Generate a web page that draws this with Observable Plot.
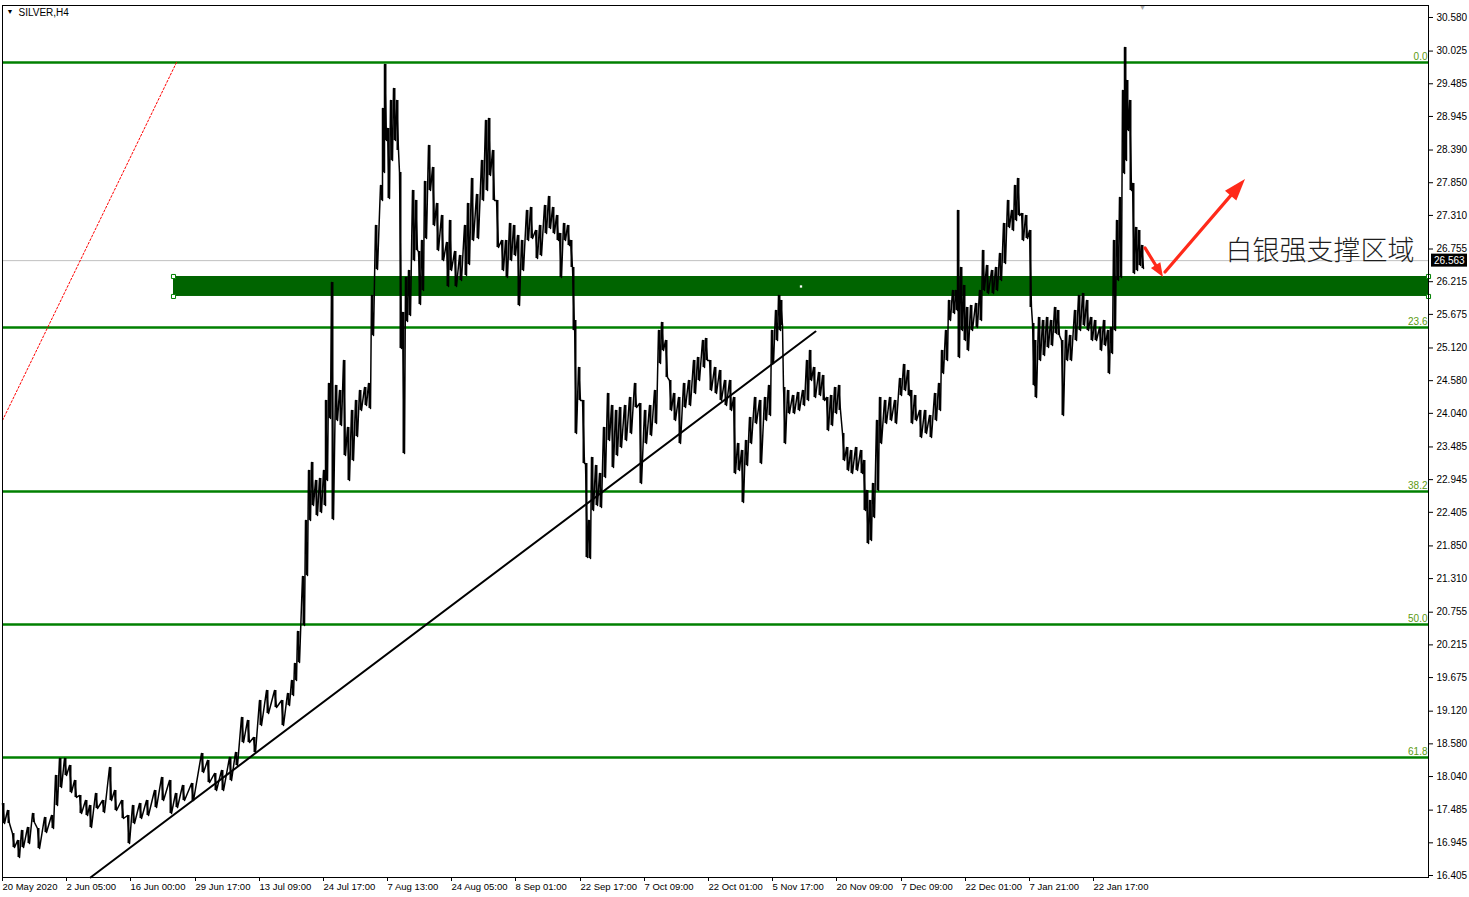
<!DOCTYPE html>
<html>
<head>
<meta charset="utf-8">
<script src="https://cdn.jsdelivr.net/npm/d3@7"></script>
<script src="https://cdn.jsdelivr.net/npm/@observablehq/plot@0.6"></script>
<style>
  html, body { margin: 0; padding: 0; background: #fff; overflow: hidden; }
  #chart { width: 1469px; height: 897px; }
</style>
</head>
<body>
<div id="chart"></div>
<script>
// ---------- data (bar index along the MT4 time axis, prices) ----------
const symbolTitle = "SILVER,H4";

const bars = [
  3,8,13,18,22,28,33,38,45,52,56,60,65,70,75,80,86,90,96,103,110,115,122,128,133,140,147,155,162,170,176,183,192,202,208,215,222,230,236,242,248,254,260,267,275,282,288,292,295,
  298,303,306,309,312,316,320,324,326,329,332,336,340,344,348,352,356,360,365,369,372,376,381,383,385,388,391,394,397,400,403,406,409,413,416,419,422,425,429,433,437,442,447,450,455,460,465,468,472,477,
  482,486,489,493,497,502,506,510,514,518,522,527,531,536,540,545,549,553,557,560,564,568,571,573,575,579,583,586,589,592,596,600,604,608,612,616,620,625,630,635,640,645,650,655,659,662,666,670,674,679,684,689,694,698,703,706,710,715,
  720,725,730,734,738,742,746,750,755,760,765,769,772,776,779,781,784,788,793,798,803,807,810,814,819,823,827,831,835,839,843,847,851,856,861,864,867,870,873,877,880,885,890,895,900,904,908,911,915,920,925,930,935,939,942,946,949,953,956,958,
  961,964,967,971,976,980,983,987,992,996,1000,1004,1008,1012,1015,1018,1022,1026,1030,1033,1035,1039,1043,1047,1051,1055,1058,1062,1066,1070,1075,1079,1083,1087,1091,1095,1100,1104,1108,1111,1114,1117,1120,1123,1125,1127,1130,1133,1136,1139,1142
];

const highs = [
  17.594,17.479,17.098,16.983,17.148,17.198,17.429,17.182,17.363,17.396,18.057,18.338,18.338,18.222,17.974,17.727,17.644,17.561,17.760,17.644,18.189,17.809,17.644,17.396,17.561,17.594,17.644,17.809,18.024,17.974,17.760,17.892,17.925,18.421,18.305,18.090,18.140,18.355,18.437,19.015,18.966,18.685,19.296,19.461,19.461,19.296,19.412,19.627,19.908,
  20.436,21.345,22.271,23.097,23.229,22.931,22.964,23.097,24.253,24.534,26.202,24.501,24.418,24.913,23.807,24.088,24.253,24.418,24.467,24.534,25.988,27.144,27.805,29.077,29.804,28.746,29.209,29.407,29.209,28.019,25.707,26.285,26.400,27.722,27.557,26.714,26.896,27.871,28.466,28.102,27.507,27.309,26.863,27.226,26.714,26.648,27.144,27.507,27.920,27.656,
  28.218,28.879,28.912,28.383,27.557,26.896,26.896,27.177,27.144,26.979,26.896,27.392,27.441,27.061,27.144,27.474,27.623,27.441,27.309,27.012,27.177,27.144,26.896,26.450,25.574,24.798,24.253,23.212,22.271,23.311,23.179,23.047,23.807,24.368,24.170,24.088,24.137,24.170,24.302,24.534,24.203,24.088,24.170,24.418,25.409,25.541,25.244,24.583,24.368,24.302,24.534,24.583,24.913,24.963,25.244,25.277,24.913,24.798,
  24.748,24.583,24.583,24.302,23.542,23.426,23.592,23.972,24.302,24.253,24.302,24.501,25.409,25.740,25.988,25.905,24.467,24.418,24.335,24.385,24.418,24.913,25.079,24.798,24.715,24.666,24.302,24.335,24.467,24.501,23.708,23.476,23.426,23.476,23.426,23.261,22.765,22.601,22.881,23.923,24.302,24.253,24.302,24.253,24.616,24.847,24.748,24.418,24.335,24.088,24.088,24.005,24.368,24.534,25.079,25.409,25.905,26.070,26.070,27.392,
  26.450,26.152,25.789,25.822,25.855,26.070,26.731,26.483,26.400,26.450,26.681,27.177,27.557,27.392,27.805,27.920,27.342,27.309,27.061,25.525,25.244,25.624,25.574,25.624,25.574,25.789,25.740,25.244,25.409,25.327,25.740,25.988,26.020,25.905,25.624,25.574,25.459,25.574,25.409,25.459,26.896,27.226,27.606,29.374,30.085,29.539,29.209,27.838,27.111,27.061,26.813
];

const lows = [
  17.264,17.264,16.867,16.702,16.867,16.933,17.281,16.851,17.115,17.182,17.561,17.859,18.057,17.776,17.694,17.429,17.396,17.198,17.512,17.446,17.644,17.479,17.347,16.933,17.264,17.347,17.396,17.528,17.644,17.429,17.528,17.644,17.644,18.107,17.941,17.809,17.809,17.974,18.222,18.602,18.602,18.437,18.883,19.081,19.180,18.883,19.213,19.379,19.627,
  19.924,20.535,21.362,22.271,22.518,22.353,22.403,22.518,22.931,23.956,22.287,23.923,23.840,23.344,22.931,23.261,23.658,24.088,24.170,24.121,25.327,26.417,27.557,28.019,28.548,27.590,28.218,28.548,28.383,25.112,23.377,25.558,25.657,26.565,26.731,25.839,26.070,26.929,27.722,27.144,26.731,26.565,26.136,26.400,26.136,26.235,26.318,26.499,26.896,26.929,
  27.557,27.722,27.970,27.557,26.780,26.400,26.285,26.565,26.648,25.822,26.400,26.896,26.929,26.598,26.648,27.012,27.094,27.012,26.896,26.285,26.896,26.813,26.450,25.409,23.708,24.253,23.212,21.659,21.642,22.436,22.518,22.485,22.981,23.592,23.146,23.344,23.476,23.592,23.708,24.137,22.881,23.542,23.675,23.873,24.864,25.079,24.633,24.088,23.923,23.542,24.137,24.170,24.368,24.583,24.798,24.913,24.418,24.368,
  24.253,24.170,24.088,23.047,23.097,22.568,23.179,23.542,23.873,23.212,23.923,24.005,24.864,25.244,25.409,25.492,23.542,24.038,24.038,24.088,24.170,24.253,24.583,24.302,24.335,24.253,23.757,23.840,24.038,24.088,23.261,23.097,23.047,23.097,23.047,22.436,21.890,21.940,22.320,22.765,23.542,23.873,23.923,23.873,24.335,24.418,24.335,23.873,23.923,23.641,23.708,23.641,23.923,24.088,24.699,24.913,25.574,25.690,25.740,24.963,
  25.409,25.244,25.079,25.409,25.459,25.574,26.070,26.020,26.020,26.070,26.235,26.516,27.111,27.061,27.226,27.309,26.896,26.929,25.789,24.501,24.302,24.913,24.996,25.128,25.161,25.360,25.327,24.005,24.913,24.913,25.244,25.409,25.492,25.409,25.244,25.244,25.079,25.161,24.699,25.029,25.409,26.235,26.285,28.003,28.218,28.713,27.722,26.351,26.400,26.483,26.433
];

const lastPrice = 26.563;

// price axis ticks (right side)
const yTicks = [30.580,30.025,29.485,28.945,28.390,27.850,27.310,26.755,26.215,25.675,25.120,24.580,24.040,23.485,22.945,22.405,21.850,21.310,20.755,20.215,19.675,19.120,18.580,18.040,17.485,16.945,16.405];

// time axis ticks (bar index -> label)
const xTickBars = [2,66,130,195,259,323,387,451,515,580,644,708,772,836,901,965,1029,1093];
const xTickLabels = ["20 May 2020","2 Jun 05:00","16 Jun 00:00","29 Jun 17:00","13 Jul 09:00","24 Jul 17:00","7 Aug 13:00","24 Aug 05:00","8 Sep 01:00","22 Sep 17:00","7 Oct 09:00","22 Oct 01:00","5 Nov 17:00","20 Nov 09:00","7 Dec 09:00","22 Dec 01:00","7 Jan 21:00","22 Jan 17:00"];

// Fibonacci retracement levels
const fibLevels = [29.837, 25.458, 22.749, 20.552, 18.354];
const fibLabels = ["0.0","23.6","38.2","50.0","61.8"];

// support zone rectangle
const zoneBars = [173, 1428];
const zonePrices = [25.971, 26.301];

// trend line (black) and red dotted line
const trendBars = [90, 815];
const trendPrices = [16.372, 25.392];
const redBars = [2, 176];
const redPrices = [23.923, 29.837];

// red arrows (from -> tip)
const arrowFromBars = [1145, 1165];
const arrowFromPrices = [26.764, 26.367];
const arrowToBars = [1163, 1245];
const arrowToPrices = [26.285, 27.904];
const arrowHeadLen = [14, 22];
const arrowHeadWidth = [11, 15];

// annotation
const noteText = "白银强支撑区域";
const noteBar = 1225;
const notePrice = 26.714;

// ---------- build tables ----------
const series = bars.map((b, i) => ({bar: b, high: highs[i], low: lows[i]}));
const zig = [];
series.forEach(d => { zig.push({bar: d.bar - 1, p: d.high}); zig.push({bar: d.bar + 1, p: d.low}); });
const fibs = fibLevels.map((v, i) => ({v, t: fibLabels[i]}));
const zone = [{x1: zoneBars[0], x2: zoneBars[1], y1: zonePrices[0], y2: zonePrices[1]}];
const corners = [];
zoneBars.forEach(b => zonePrices.forEach(p => corners.push({bar: b, p})));
const zoneCenter = [{bar: (zoneBars[0] + zoneBars[1]) / 2, p: (zonePrices[0] + zonePrices[1]) / 2}];
const trend = trendBars.map((b, i) => ({bar: b, p: trendPrices[i]}));
const red = redBars.map((b, i) => ({bar: b, p: redPrices[i]}));
const labelMap = new Map(xTickBars.map((b, i) => [b, xTickLabels[i]]));
const lastBar = bars[bars.length - 1];

const chart = Plot.plot({
  width: 1469,
  height: 897,
  marginLeft: 2,
  marginRight: 41,
  marginTop: 5,
  marginBottom: 20,
  style: {fontFamily: "'Liberation Sans', Arial, sans-serif", fontSize: "10px", background: "white", color: "black"},
  x: {domain: [2, 1428], axis: null},
  y: {domain: [16.372, 30.778], axis: null},
  marks: [
    Plot.ruleY([lastPrice], {stroke: "#c0c0c0", strokeWidth: 1}),
    Plot.ruleY(fibLevels, {stroke: "#008000", strokeWidth: 2.6}),
    Plot.text(fibs, {y: "v", text: "t", frameAnchor: "right", textAnchor: "end", dx: -1, dy: -6, fill: "#5c9a10", fontSize: 10}),
    Plot.rect(zone, {x1: "x1", x2: "x2", y1: "y1", y2: "y2", fill: "#006400"}),
    Plot.dot(corners, {x: "bar", y: "p", symbol: "square", r: 2.3, fill: "white", stroke: "#008000", strokeWidth: 1}),
    Plot.dot(zoneCenter, {x: "bar", y: "p", symbol: "square", r: 1.3, fill: "white"}),
    Plot.line(trend, {x: "bar", y: "p", stroke: "black", strokeWidth: 2}),
    Plot.ruleX(series, {x: "bar", y1: "low", y2: "high", stroke: "black", strokeWidth: 2}),
    Plot.line(zig, {x: "bar", y: "p", stroke: "black", strokeWidth: 1.5}),
    Plot.line(red, {x: "bar", y: "p", stroke: "#ff0000", strokeWidth: 1, strokeDasharray: "2,2"}),
    Plot.text([noteText], {x: () => noteBar, y: () => notePrice, text: d => d, textAnchor: "start", fontSize: 27, fontFamily: "'Noto Sans CJK SC', sans-serif", fontWeight: 300, fill: "#1e1e1e"}),
    Plot.text([symbolTitle], {frameAnchor: "top-left", text: d => d, dx: 16, dy: 3, lineAnchor: "top", fontSize: 10, fill: "black"}),
    Plot.text(["▼"], {frameAnchor: "top-left", text: d => d, dx: 4, dy: 4, lineAnchor: "top", fontSize: 7, fill: "black"}),
    Plot.text([lastBar], {x: d => d, frameAnchor: "top", text: () => "▼", dy: -1, lineAnchor: "top", fontSize: 8, fill: "#a8a8a8"}),
    Plot.axisX(xTickBars, {anchor: "bottom", tickSize: 4, tickPadding: 2, tickFormat: d => labelMap.get(d), textAnchor: "start", dx: 0, fontSize: 9.5, label: null}),
    Plot.axisY(yTicks, {anchor: "right", tickSize: 4, tickPadding: 4, tickFormat: d => d.toFixed(3), fontSize: 10, label: null}),
    Plot.frame({stroke: "black", strokeWidth: 1})
  ]
});

document.getElementById("chart").appendChild(chart);

const xScale = chart.scale("x");
const yScale = chart.scale("y");
const svg = d3.select(chart);

// red arrows with filled heads, positioned through the scales
const ag = svg.append("g").attr("fill", "#ff2a1a").attr("stroke", "#ff2a1a");
arrowFromBars.forEach((b, i) => {
  const x1 = xScale.apply(b), y1 = yScale.apply(arrowFromPrices[i]);
  const x2 = xScale.apply(arrowToBars[i]), y2 = yScale.apply(arrowToPrices[i]);
  const L = Math.hypot(x2 - x1, y2 - y1), ux = (x2 - x1) / L, uy = (y2 - y1) / L;
  const hl = arrowHeadLen[i], hw = arrowHeadWidth[i] / 2;
  const bx = x2 - ux * hl, by = y2 - uy * hl;
  ag.append("line").attr("x1", x1).attr("y1", y1).attr("x2", bx + ux * 2).attr("y2", by + uy * 2)
    .attr("stroke-width", 3.2).attr("stroke-linecap", "round");
  ag.append("polygon").attr("stroke", "none")
    .attr("points", [[x2, y2], [bx - uy * hw, by + ux * hw], [bx + uy * hw, by - ux * hw]].map(p => p.join(",")).join(" "));
});

// last-price box on the right axis
const yy = yScale.apply(lastPrice);
const gx = 1469 - 41 + 3;
svg.append("rect").attr("x", gx).attr("y", yy - 6.5).attr("width", 36).attr("height", 13).attr("fill", "black");
svg.append("text").attr("x", gx + 3).attr("y", yy).attr("dy", "0.35em").attr("text-anchor", "start")
  .attr("fill", "white").attr("font-size", 10).attr("font-family", "'Liberation Sans', Arial, sans-serif")
  .text(lastPrice.toFixed(3));
</script>
</body>
</html>
